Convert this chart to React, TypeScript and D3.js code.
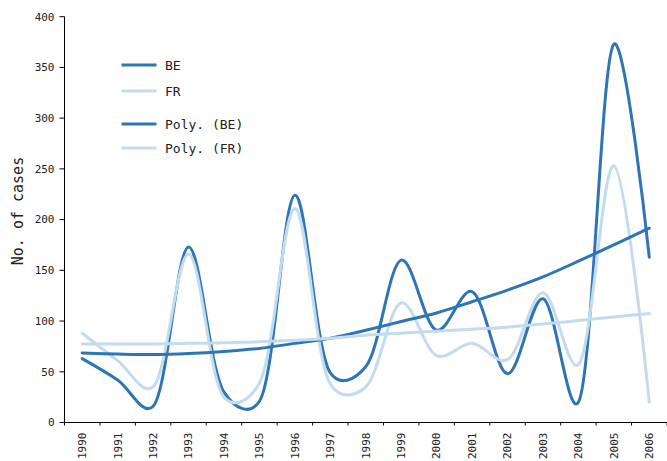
import * as d3 from 'd3';

const years = ['1990', '1991', '1992', '1993', '1994', '1995', '1996', '1997', '1998',
  '1999', '2000', '2001', '2002', '2003', '2004', '2005', '2006'];

// cases per year
const beCases = [63, 42, 16, 173, 30, 21, 224, 49, 55, 160, 91, 129, 48, 122, 20, 373, 163];
const frCases = [88, 61, 35, 166, 25, 39, 211, 38, 35, 118, 66, 78, 62, 128, 57, 253, 20];

// polynomial trend lines
const bePoly = [68.5, 67.5, 67, 68, 70, 73, 78, 83, 91, 99.5, 108, 119, 130.5, 143.5, 159, 175, 191.5];
const frPoly = [77.5, 77.5, 77.5, 78, 78.5, 79.5, 81, 83, 86, 88, 90, 92, 94, 97, 100.5, 104, 107.5];

const yTicks = [0, 50, 100, 150, 200, 250, 300, 350, 400];

const width = 667;
const height = 461;
const margin = { top: 16.7, bottom: 38.5, left: 64.5, right: 0 };

const darkBlue = '#2e75b6';
const lightBlue = '#c3dbee';
const font = '"DejaVu Sans Mono", monospace';

const App = () => {
  const bottom = height - margin.bottom;

  const xScale = d3.scaleBand<string>()
    .domain(years)
    .range([margin.left, width - margin.right]);

  const yScale = d3.scaleLinear()
    .domain([0, 400])
    .range([bottom, margin.top]);

  const cx = (i: number) => (xScale(years[i]) ?? 0) + xScale.bandwidth() / 2;

  const line = d3.line<number>()
    .x((_, i) => cx(i))
    .y((d) => yScale(d))
    .curve(d3.curveCatmullRom.alpha(0.25));

  const series = [
    { name: 'BE', values: beCases, color: darkBlue },
    { name: 'FR', values: frCases, color: lightBlue },
    { name: 'Poly. (BE)', values: bePoly, color: darkBlue },
    { name: 'Poly. (FR)', values: frPoly, color: lightBlue },
  ];

  const legendRows = [65, 91, 124, 148];

  const boundaries = [...years.map((y) => xScale(y) ?? 0), width - margin.right];

  return (
    <svg width={width} height={height} viewBox={`0 0 ${width} ${height}`}
      style={{ position: 'absolute', left: 0, top: 0, display: 'block', background: '#fff' }}>
      <g className="lines" fill="none" strokeLinejoin="round" strokeLinecap="round">
        {series.map((s) => (
          <path key={s.name} d={line(s.values) ?? ''} stroke={s.color} strokeWidth={3} />
        ))}
      </g>

      <g className="y-axis" fontFamily={font} fontSize={11} fill="#222">
        <line x1={margin.left} x2={margin.left} y1={margin.top} y2={bottom} stroke="#000" />
        {yTicks.map((t) => (
          <g key={t} transform={`translate(0,${yScale(t)})`}>
            <line x1={margin.left - 5} x2={margin.left} stroke="#000" />
            <text x={margin.left - 10} dy="0.35em" textAnchor="end">{t}</text>
          </g>
        ))}
      </g>

      <g className="x-axis" fontFamily={font} fontSize={11} fill="#222">
        <line x1={margin.left} x2={width - margin.right} y1={bottom} y2={bottom} stroke="#000" />
        {boundaries.map((b, i) => (
          <line key={i} x1={b} x2={b} y1={bottom} y2={bottom + 3} stroke="#000" />
        ))}
        {years.map((y, i) => (
          <text key={y} transform={`translate(${cx(i)},${bottom + 10}) rotate(-90)`}
            textAnchor="end" dy="0.35em">{y}</text>
        ))}
      </g>

      <text transform="translate(18,211) rotate(-90)"
        textAnchor="middle" dy="0.35em" fontFamily={font} fontSize={15} fill="#222">
        No. of cases
      </text>

      <g className="legend" fontFamily={font} fontSize={13} fill="#222">
        {series.map((s, i) => (
          <g key={s.name} transform={`translate(0,${legendRows[i]})`}>
            <line x1={121.5} x2={156.5} stroke={s.color} strokeWidth={3} />
            <text x={165} dy="0.35em">{s.name}</text>
          </g>
        ))}
      </g>
    </svg>
  );
};

export default App;
